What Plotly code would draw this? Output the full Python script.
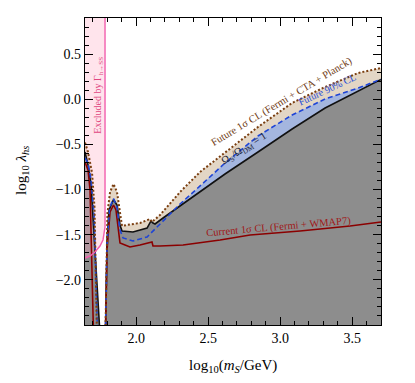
import plotly.graph_objects as go

X_RANGE = [1.645, 3.70]
Y_RANGE = [-2.5, 0.9]
BOTTOM = -3.0
TOP = 1.2

# values; each curve has a left branch and a right branch
# Future 1sigma CL (Fermi + CTA + Planck), dotted brown
fut1_lx = [1.645, 1.666, 1.694, 1.711, 1.728]
fut1_ly = [-0.48, -0.584, -0.816, -1.20, -2.6]
fut1_rx = [1.787, 1.794, 1.801, 1.819, 1.843, 1.867, 1.888, 1.902, 1.937, 2.027,
           2.096, 2.110, 2.166, 2.305, 2.444, 2.617, 2.846, 3.083, 3.312, 3.541, 3.70]
fut1_ry = [-2.6, -1.78, -1.26, -1.027, -0.938, -1.027, -1.28, -1.403, -1.392, -1.37,
           -1.326, -1.359, -1.282, -1.027, -0.805, -0.595, -0.307, -0.041, 0.136, 0.291, 0.346]

# Future 90% CL, dashed blue
f90_lx = [1.645, 1.666, 1.687, 1.708, 1.732]
f90_ly = [-0.65, -0.706, -0.894, -1.282, -2.6]
f90_rx = [1.787, 1.798, 1.815, 1.843, 1.867, 1.888, 1.909, 1.978, 2.076, 2.145,
          2.187, 2.305, 2.444, 2.617, 2.846, 3.083, 3.312, 3.541, 3.70]
f90_ry = [-2.6, -1.614, -1.204, -1.10, -1.193, -1.448, -1.536, -1.57, -1.525, -1.414,
          -1.348, -1.16, -0.96, -0.706, -0.407, -0.174, 0.003, 0.125, 0.22]

# Omega_S / Omega_DM = 1, black
om_lx = [1.645, 1.666, 1.687, 1.718, 1.749]
om_ly = [-0.584, -0.728, -0.949, -1.725, -2.6]
om_rx = [1.787, 1.798, 1.812, 1.843, 1.867, 1.888, 1.902, 1.978, 2.076, 2.103,
         2.117, 2.131, 2.187, 2.353, 2.492, 2.617, 2.846, 3.083, 3.312, 3.541, 3.70]
om_ry = [-2.6, -1.558, -1.226, -1.11, -1.171, -1.392, -1.459, -1.47, -1.426, -1.348,
         -1.37, -1.381, -1.315, -1.127, -0.972, -0.828, -0.584, -0.329, -0.097, 0.092, 0.22]

# Current 1sigma CL (Fermi + WMAP7), dark red
cur_lx = [1.645, 1.666, 1.680, 1.694, 1.704]
cur_ly = [-0.695, -0.783, -1.005, -1.78, -2.6]
cur_rx = [1.787, 1.798, 1.819, 1.843, 1.860, 1.874, 1.888, 1.923, 1.957, 2.027,
          2.096, 2.110, 2.117, 2.166, 2.326, 2.583, 2.791, 3.138, 3.485, 3.70]
cur_ry = [-2.6, -1.669, -1.248, -1.171, -1.226, -1.448, -1.592, -1.614, -1.636, -1.614,
          -1.592, -1.581, -1.625, -1.625, -1.614, -1.558, -1.503, -1.459, -1.403, -1.359]

# Gamma(h -> SS) exclusion boundary
pink_x = [1.645, 1.680, 1.714, 1.749, 1.770, 1.784, 1.784]
pink_y = [-1.758, -1.736, -1.691, -1.625, -1.558, -1.414, TOP]

x_ticks = [2.0, 2.5, 3.0, 3.5]
x_ticklabels = ["2.0", "2.5", "3.0", "3.5"]
y_ticks = [0.5, 0.0, -0.5, -1.0, -1.5, -2.0]
y_ticklabels = ["0.5", "0.0", "\u22120.5", "\u22121.0", "\u22121.5", "\u22122.0"]

FONT = "Liberation Serif"


def region(lx, ly, rx, ry):
    xs = [lx[0]] + lx + [lx[-1], rx[0]] + rx + [rx[-1]]
    ys = [BOTTOM] + ly + [BOTTOM, BOTTOM] + ry + [BOTTOM]
    return xs, ys


def branches(lx, ly, rx, ry):
    return lx + [None] + rx, ly + [None] + ry


fig = go.Figure()

for (lx, ly, rx, ry), col in [
    ((fut1_lx, fut1_ly, fut1_rx, fut1_ry), "#e3d6c5"),
    ((f90_lx, f90_ly, f90_rx, f90_ry), "#a4b6df"),
    ((om_lx, om_ly, om_rx, om_ry), "#8d8d8d"),
]:
    xs, ys = region(lx, ly, rx, ry)
    fig.add_trace(go.Scatter(x=xs, y=ys, fill="toself", fillcolor=col,
                             mode="none", hoverinfo="skip"))

# pink exclusion band, semi transparent over everything
fig.add_trace(go.Scatter(x=pink_x + [pink_x[0]], y=pink_y + [TOP], fill="toself",
                         fillcolor="rgba(255,170,195,0.32)", mode="none", hoverinfo="skip"))

for (lx, ly, rx, ry), col, w, dash in [
    ((om_lx, om_ly, om_rx, om_ry), "#111111", 1.6, "solid"),
    ((cur_lx, cur_ly, cur_rx, cur_ry), "#8b0000", 1.6, "solid"),
    ((f90_lx, f90_ly, f90_rx, f90_ry), "#1f45d6", 1.6, "5px,3px"),
    ((fut1_lx, fut1_ly, fut1_rx, fut1_ry), "#7a3e10", 2.0, "2px,2px"),
]:
    xs, ys = branches(lx, ly, rx, ry)
    fig.add_trace(go.Scatter(x=xs, y=ys, mode="lines", line=dict(color=col, width=w, dash=dash),
                             hoverinfo="skip"))

fig.add_trace(go.Scatter(x=pink_x, y=pink_y, mode="lines",
                         line=dict(color="#f25fae", width=1.4), hoverinfo="skip"))

labels = [
    ("Excluded by \u0393<sub>h\u2192SS</sub>", 1.742, 0.05, -90, "#e0457f", 10),
    ("Future 1\u03c3 CL (Fermi + CTA + Planck)", 3.01, -0.035, -31, "#6e3a12", 10.5),
    ("Future 90% CL", 3.325, 0.11, -25, "#2a4fd8", 10),
    ("\u03a9<sub>S</sub>/\u03a9<sub>DM</sub> = 1", 2.755, -0.55, -32, "#1c2233", 10.5),
    ("Current 1\u03c3 CL (Fermi + WMAP7)", 2.99, -1.41, -5, "#a01818", 10.5),
]
for txt, x, y, ang, col, size in labels:
    fig.add_annotation(x=x, y=y, text=txt, textangle=ang, showarrow=False,
                       xanchor="center", yanchor="middle",
                       font=dict(family=FONT, size=size, color=col))

fig.add_annotation(xref="paper", yref="paper", x=0.5, y=-0.135,
                   text="log<sub>10</sub>(<i>m<sub>S</sub></i>/GeV)",
                   xanchor="center", yanchor="middle", showarrow=False,
                   font=dict(family=FONT, size=15, color="black"))
fig.add_annotation(xref="paper", yref="paper", x=-0.213, y=0.505,
                   text="log<sub>10</sub> <i>\u03bb<sub>hs</sub></i>",
                   xanchor="center", yanchor="middle", textangle=-90, showarrow=False,
                   font=dict(family=FONT, size=15, color="black"))

axis_common = dict(showgrid=False, zeroline=False, showline=True, linecolor="black", linewidth=1.3,
                   mirror="allticks", ticks="inside", ticklen=8, tickwidth=1.3, tickcolor="black",
                   tickfont=dict(family=FONT, size=14, color="black"),
                   minor=dict(tickmode="linear", ticks="inside", ticklen=4, tickwidth=1.1,
                              tickcolor="black", tick0=0, dtick=0.1, showgrid=False))

fig.update_xaxes(range=X_RANGE, tickmode="array", tickvals=x_ticks, ticktext=x_ticklabels, **axis_common)
fig.update_yaxes(range=Y_RANGE, tickmode="array", tickvals=y_ticks, ticktext=y_ticklabels, **axis_common)

# the page body adds an 8px offset, so the margins are shifted to compensate
fig.update_layout(width=415, height=383, margin=dict(l=77, r=42, t=10, b=66),
                  paper_bgcolor="white", plot_bgcolor="white", showlegend=False)

fig.write_html("out.html", config={"displayModeBar": False})
